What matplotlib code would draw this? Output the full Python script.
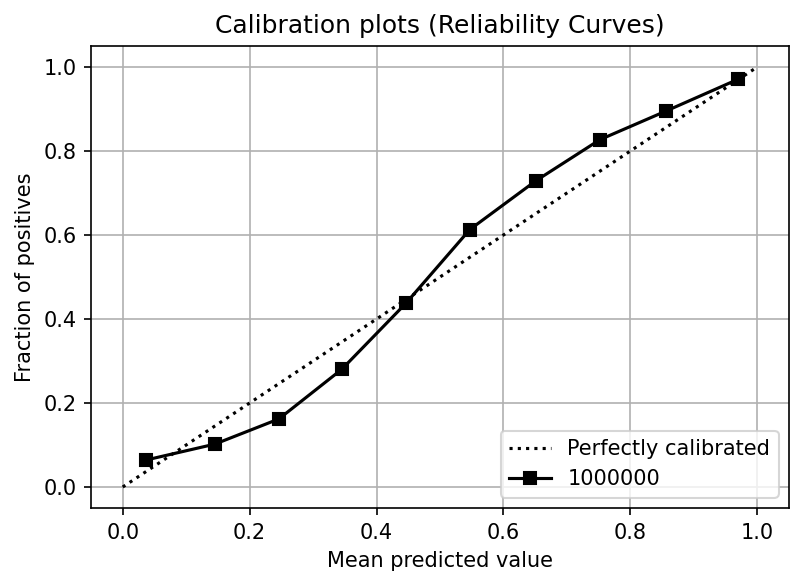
import matplotlib
matplotlib.use("Agg")
import matplotlib.pyplot as plt

mean_pred = [0.036, 0.145, 0.246, 0.345, 0.446, 0.547, 0.651, 0.752, 0.856, 0.970]
frac_pos = [0.064, 0.102, 0.162, 0.280, 0.437, 0.613, 0.729, 0.827, 0.895, 0.971]
series_label = "1000000"

DPI = 150
fig = plt.figure(figsize=(803/DPI, 586/DPI), dpi=DPI)
ax = fig.add_axes([91/803, 1-508/586, (789-91)/803, (508-46)/586])
ax.plot([0, 1], [0, 1], "k:", label="Perfectly calibrated")
ax.plot(mean_pred, frac_pos, "s-", color="black", label=series_label)
ax.set_xlim(-0.05, 1.05)
ax.set_ylim(-0.05, 1.05)
ax.set_xlabel("Mean predicted value")
ax.set_ylabel("Fraction of positives")
ax.set_title("Calibration plots (Reliability Curves)")
ax.legend(loc="lower right")
ax.grid(True)
fig.savefig("out.png", dpi=DPI)
